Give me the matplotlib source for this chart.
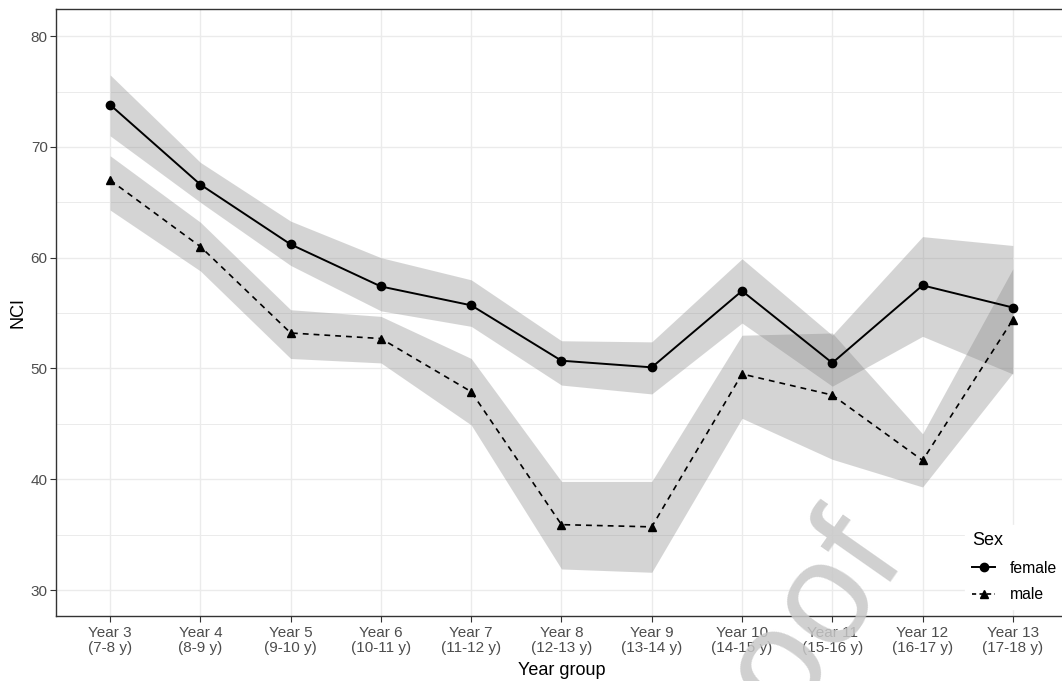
import matplotlib
matplotlib.use("Agg")
from matplotlib import pyplot as plt
from matplotlib.lines import Line2D
import numpy as np

plt.rcParams['font.family'] = ['Liberation Sans', 'DejaVu Sans']

year_labels = ["Year 3\n(7-8 y)", "Year 4\n(8-9 y)", "Year 5\n(9-10 y)", "Year 6\n(10-11 y)",
               "Year 7\n(11-12 y)", "Year 8\n(12-13 y)", "Year 9\n(13-14 y)", "Year 10\n(14-15 y)",
               "Year 11\n(15-16 y)", "Year 12\n(16-17 y)", "Year 13\n(17-18 y)"]

female_nci = [73.8, 66.6, 61.2, 57.4, 55.7, 50.7, 50.1, 57.0, 50.5, 57.5, 55.5]
female_lo = [71.0, 65.0, 59.3, 55.2, 53.8, 48.5, 47.7, 54.1, 48.4, 52.9, 49.5]
female_hi = [76.5, 68.6, 63.3, 60.0, 58.0, 52.5, 52.4, 59.9, 53.0, 61.9, 61.1]

male_nci = [67.0, 61.0, 53.2, 52.7, 47.9, 35.9, 35.7, 49.5, 47.6, 41.7, 54.4]
male_lo = [64.3, 58.8, 50.9, 50.5, 44.9, 31.9, 31.6, 45.5, 41.8, 39.3, 49.6]
male_hi = [69.2, 63.2, 55.3, 54.7, 50.9, 39.8, 39.8, 53.0, 53.2, 44.1, 59.0]

x = np.arange(1, len(year_labels) + 1)

fig = plt.figure(figsize=(10.62, 6.81), dpi=100)
ax = fig.add_axes([0.0527, 0.0954, 0.952, 0.8914])

# confidence bands
ax.fill_between(x, female_lo, female_hi, color='#7f7f7f', alpha=0.33, linewidth=0, zorder=2)
ax.fill_between(x, male_lo, male_hi, color='#7f7f7f', alpha=0.33, linewidth=0, zorder=2)

ax.plot(x, female_nci, color='black', lw=1.4, marker='o', ms=6, zorder=3)
ax.plot(x, male_nci, color='black', lw=1.2, ls=(0, (3.5, 3)), marker='^', ms=6, zorder=3)

ax.set_xlim(0.4, 11.6)
ax.set_ylim(27.65, 82.45)
ax.set_xticks(x)
ax.set_xticklabels(year_labels, fontsize=11, color='#4d4d4d', linespacing=1.1)
ax.set_yticks([30, 40, 50, 60, 70, 80])
ax.set_yticks([35, 45, 55, 65, 75], minor=True)
ax.tick_params(axis='y', which='major', labelsize=11, labelcolor='#4d4d4d', color='#333333', length=4, width=0.8, pad=2)
ax.tick_params(axis='y', which='minor', length=0)
ax.tick_params(axis='x', color='#333333', length=4, width=0.8, pad=3)

ax.grid(True, which='major', color='#ebebeb', lw=1.0, zorder=0)
ax.grid(True, which='minor', axis='y', color='#ebebeb', lw=0.7, zorder=0)
ax.set_axisbelow(True)
for s in ax.spines.values():
    s.set_color('#333333')
    s.set_linewidth(1.0)

ax.set_xlabel("Year group", fontsize=13, labelpad=5)
ax.set_ylabel("NCI", fontsize=13, labelpad=3)

handles = [Line2D([], [], color='black', lw=1.4, marker='o', ms=6),
           Line2D([], [], color='black', lw=1.2, ls=(0, (2.5, 2)), marker='^', ms=6)]
leg = ax.legend(handles, ["female", "male"], title="Sex", loc='lower left',
                bbox_to_anchor=(0.899, 0.011), frameon=True, fontsize=11.3,
                title_fontsize=13, handlelength=1.5, handletextpad=0.9,
                labelspacing=0.75, borderpad=0.45, borderaxespad=0.0)
leg.get_frame().set_edgecolor('white')
leg.get_frame().set_facecolor('white')
leg.get_frame().set_alpha(1.0)
leg.get_frame().set_boxstyle('square', pad=0.0)
leg._legend_box.align = "left"

# watermark
fig.text(0.726, 0.016, "Proof", fontsize=106, color='#c8c8c8', alpha=0.85,
         rotation=55, ha='center', va='center', zorder=10)

fig.savefig("out.png", dpi=100)
